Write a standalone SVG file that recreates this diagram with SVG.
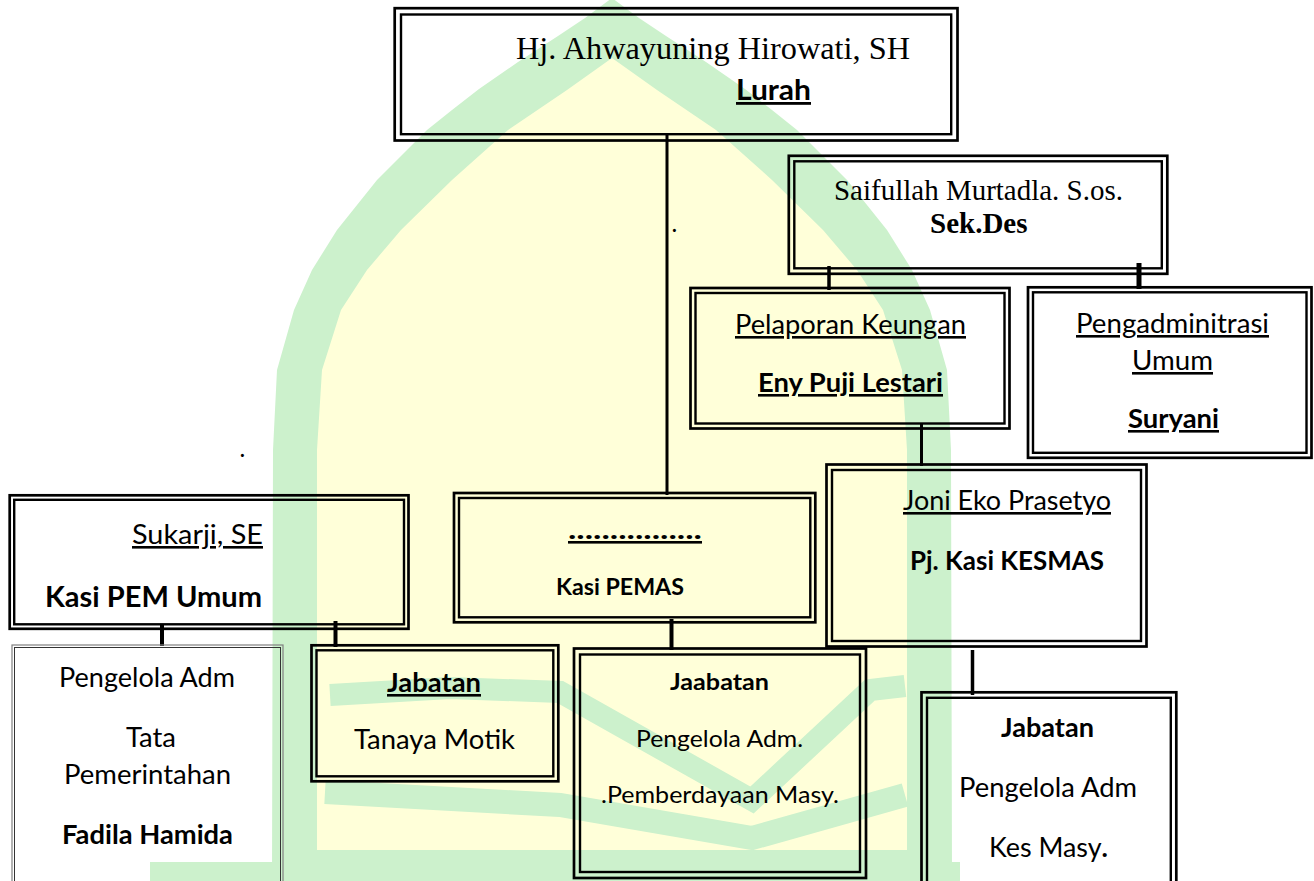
<svg xmlns="http://www.w3.org/2000/svg" width="1314" height="881" viewBox="0 0 1314 881">
<style>
.o{fill:none;stroke:#000;stroke-width:2.7}
.i{fill:none;stroke:#000;stroke-width:2.4}
.c{stroke:#000;fill:none}
.t{font-family:Lato,"Liberation Sans",sans-serif;fill:#000}
.b{font-weight:bold}
.u{text-decoration:underline}
.tm{font-family:"Liberation Serif","Times New Roman",serif;fill:#000}
.wg{fill:#ccf1cc}
.wy{fill:#ffffd9}
</style>
<rect width="1314" height="881" fill="#fff"/>
<g id="watermark">
<polygon class="wg" points="612,-2 585,18 558,36 518,62 479,89 452,110 427,130 377,180 337,230 312,270 294,310 277,370 273,450 272,881 952,881 951,450 947,370 930,310 912,270 887,230 847,180 797,130 772,110 745,89 706,62 666,36 639,18"/>
<polygon class="wy" points="612,58 567,90 508,130 452,180 401,230 367,270 341,310 322,370 317,450 317,850 907,850 907,450 902,370 883,310 857,270 823,230 772,180 716,130 657,90"/>
<polyline points="330,695 450,688 560,692 752,800 870,690 905,686" fill="none" stroke="#ccf1cc" stroke-width="22"/>
<polyline points="325,792 560,805 752,838 905,795" fill="none" stroke="#ccf1cc" stroke-width="24"/>
<rect x="150" y="862" width="810" height="19" fill="#ccf1cc"/>
</g>
<g id="connectors">
<line class="c" x1="667" y1="134" x2="667" y2="495" stroke-width="3"/>
<line class="c" x1="829" y1="266" x2="829" y2="290" stroke-width="3.5"/>
<line class="c" x1="1139" y1="263" x2="1139" y2="289" stroke-width="5"/>
<line class="c" x1="921.5" y1="424" x2="921.5" y2="466" stroke-width="3"/>
<line class="c" x1="162" y1="624" x2="162" y2="646" stroke-width="4"/>
<line class="c" x1="335.5" y1="621" x2="335.5" y2="647" stroke-width="4"/>
<line class="c" x1="671.5" y1="619" x2="671.5" y2="650" stroke-width="4"/>
<line class="c" x1="972.5" y1="650" x2="972.5" y2="695" stroke-width="3.5"/>
</g>
<g id="lurah">
<rect class="o" x="394.7" y="8.2" width="562.8" height="132.3"/>
<rect class="i" x="401" y="14.5" width="550.2" height="119.7"/>
<text class="tm" x="516" y="59" font-size="32" textLength="394" lengthAdjust="spacingAndGlyphs">Hj. Ahwayuning Hirowati, SH</text>
<text class="t b u" x="736" y="100" font-size="28" textLength="75" lengthAdjust="spacingAndGlyphs">Lurah</text>
</g>
<text class="t b" x="672" y="232" font-size="20">.</text>
<text class="t b" x="240" y="457" font-size="20">.</text>
<g id="sekdes">
<rect class="o" x="788.8" y="155.8" width="378.5" height="118"/>
<rect class="i" x="794.3" y="161.3" width="367.5" height="107"/>
<text class="tm" x="834" y="200" font-size="29" textLength="289" lengthAdjust="spacingAndGlyphs">Saifullah Murtadla. S.os.</text>
<text class="tm b" x="930" y="233" font-size="29">Sek.Des</text>
</g>
<g id="pelaporan">
<rect class="o" x="690.5" y="288" width="319" height="140.5"/>
<rect class="i" x="695.5" y="293" width="309" height="130.5"/>
<text class="t u" x="735" y="334" font-size="26" textLength="231" lengthAdjust="spacingAndGlyphs">Pelaporan Keungan</text>
<text class="t b u" x="758" y="392" font-size="26" textLength="185" lengthAdjust="spacingAndGlyphs">Eny Puji Lestari</text>
</g>
<g id="pengadministrasi">
<rect class="o" x="1028" y="287.3" width="283.5" height="170.5"/>
<rect class="i" x="1033" y="292.3" width="273.5" height="160.5"/>
<text class="t u" x="1076" y="333" font-size="26" textLength="193" lengthAdjust="spacingAndGlyphs">Pengadminitrasi</text>
<text class="t u" x="1132" y="370" font-size="26" textLength="81" lengthAdjust="spacingAndGlyphs">Umum</text>
<text class="t b u" x="1128" y="428" font-size="26" textLength="91" lengthAdjust="spacingAndGlyphs">Suryani</text>
</g>
<g id="joni">
<rect class="o" x="826.5" y="464.5" width="320" height="182"/>
<rect class="i" x="832" y="470" width="309" height="171"/>
<text class="t u" x="903" y="510" font-size="26" textLength="208" lengthAdjust="spacingAndGlyphs">Joni Eko Prasetyo</text>
<text class="t b" x="910" y="570" font-size="26" textLength="194" lengthAdjust="spacingAndGlyphs">Pj. Kasi KESMAS</text>
</g>
<g id="sukarji">
<rect class="o" x="9.7" y="495.3" width="398.8" height="133.5"/>
<rect class="i" x="14.2" y="499.8" width="389.8" height="124.5"/>
<text class="t u" x="132" y="544" font-size="26" textLength="131" lengthAdjust="spacingAndGlyphs">Sukarji, SE</text>
<text class="t b" x="45" y="607" font-size="28.5" textLength="217" lengthAdjust="spacingAndGlyphs">Kasi PEM Umum</text>
</g>
<g id="kasi-pemas">
<rect class="o" x="454" y="493" width="361.3" height="129.3"/>
<rect class="i" x="459" y="498" width="351.3" height="119.3"/>
<text class="t b u" x="568" y="539" font-size="26" textLength="134" lengthAdjust="spacingAndGlyphs">................</text>
<text class="t b" x="556" y="595" font-size="23.5" textLength="128" lengthAdjust="spacingAndGlyphs">Kasi PEMAS</text>
</g>
<g id="pengelola-tata">
<rect x="12" y="645" width="271" height="250" fill="none" stroke="#808080" stroke-width="1.2"/>
<rect x="14.5" y="647.5" width="266" height="250" fill="none" stroke="#333" stroke-width="1"/>
<text class="t" x="59" y="687" font-size="26" textLength="176" lengthAdjust="spacingAndGlyphs">Pengelola Adm</text>
<text class="t" x="126" y="747" font-size="26" textLength="50" lengthAdjust="spacingAndGlyphs">Tata</text>
<text class="t" x="64" y="784" font-size="26" textLength="167" lengthAdjust="spacingAndGlyphs">Pemerintahan</text>
<text class="t b" x="62" y="844" font-size="26" textLength="171" lengthAdjust="spacingAndGlyphs">Fadila Hamida</text>
</g>
<g id="jabatan-tanaya">
<rect class="o" x="311.5" y="645.3" width="246.8" height="136"/>
<rect class="i" x="316.5" y="650.3" width="236.8" height="126"/>
<text class="t b u" x="387" y="692" font-size="26" textLength="94" lengthAdjust="spacingAndGlyphs">Jabatan</text>
<text class="t" x="354" y="749" font-size="26" textLength="161" lengthAdjust="spacingAndGlyphs">Tanaya Motik</text>
</g>
<g id="jaabatan-pemberdayaan">
<rect class="o" x="574" y="648.5" width="292" height="229.5"/>
<rect class="i" x="580" y="654.5" width="280" height="217.5"/>
<text class="t b" x="670" y="690" font-size="23.5" textLength="99" lengthAdjust="spacingAndGlyphs">Jaabatan</text>
<text class="t" x="636" y="747" font-size="23.5" textLength="167" lengthAdjust="spacingAndGlyphs">Pengelola Adm.</text>
<text class="t" x="601" y="803" font-size="23.5" textLength="238" lengthAdjust="spacingAndGlyphs">.Pemberdayaan Masy.</text>
</g>
<g id="jabatan-kesmas">
<rect class="o" x="921.5" y="692.3" width="254.8" height="220"/>
<rect class="i" x="927" y="697.8" width="243.8" height="220"/>
<text class="t b" x="1001" y="737" font-size="26" textLength="93" lengthAdjust="spacingAndGlyphs">Jabatan</text>
<text class="t" x="959" y="797" font-size="26" textLength="178" lengthAdjust="spacingAndGlyphs">Pengelola Adm</text>
<text class="t" x="989" y="857" font-size="26" textLength="119" lengthAdjust="spacingAndGlyphs">Kes Masy<tspan font-weight="bold">.</tspan></text>
</g>
</svg>
